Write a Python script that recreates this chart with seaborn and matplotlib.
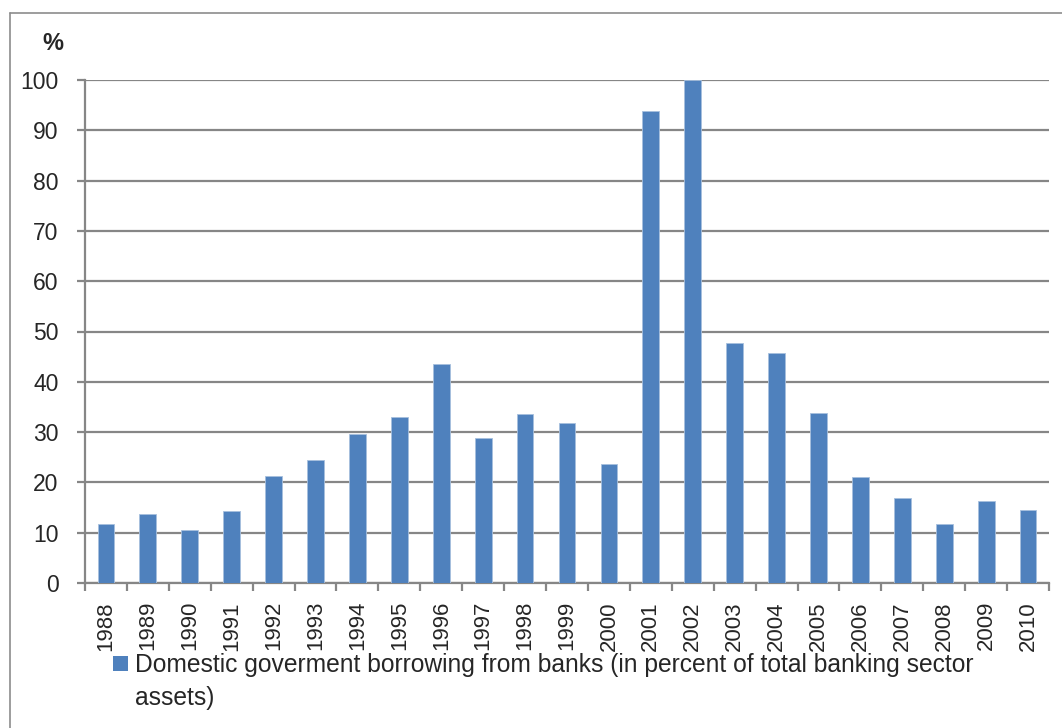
import numpy as np
import pandas as pd
import matplotlib
matplotlib.use("Agg")
from matplotlib import pyplot as plt
from matplotlib.patches import Rectangle
from matplotlib.lines import Line2D
import seaborn as sns

# Data
years = [str(y) for y in range(1988, 2011)]
borrowing = [11.8, 13.7, 10.5, 14.3, 21.3, 24.4, 29.6, 33.1, 43.6, 28.8, 33.5, 31.8,
             23.6, 93.8, 100.0, 47.8, 45.8, 33.7, 21.1, 16.9, 11.7, 16.4, 14.6]
y_ticks = list(range(0, 101, 10))
legend_lines = ["Domestic goverment borrowing from banks (in percent of total banking sector",
                "assets)"]

df = pd.DataFrame({"year": years, "value": borrowing})

sns.set_style("white")
plt.rcParams["font.family"] = ["Liberation Sans", "DejaVu Sans"]

W, H = 1062, 728
fig = plt.figure(figsize=(W / 100, H / 100), dpi=100)
ax = fig.add_axes([85 / W, 1 - 583 / H, (1049 - 85) / W, (583 - 80) / H])

bar_color = "#4F81BD"
grid_color = "#868686"

sns.barplot(data=df, x="year", y="value", color=bar_color, saturation=1,
            width=0.4, edgecolor="#A7C0DE", linewidth=0.6, ax=ax, zorder=3)

ax.set_ylim(0, 100)
ax.set_xlim(-0.5, len(years) - 0.5)
ax.set_yticks(y_ticks)
ax.yaxis.grid(True, color=grid_color, linewidth=1.6, zorder=0)
ax.set_axisbelow(True)

for side in ["top", "right"]:
    ax.spines[side].set_visible(False)
for side in ["left", "bottom"]:
    ax.spines[side].set_color(grid_color)
    ax.spines[side].set_linewidth(1.6)

ax.tick_params(axis="y", direction="out", length=6, width=1.6, color=grid_color,
               pad=13, labelsize=16.5, left=True)
ax.set_xticks(range(len(years)))
ax.set_xticklabels(years, rotation=90)
ax.tick_params(axis="x", which="major", length=0, pad=13, labelsize=16)
ax.set_xticks(np.arange(-0.5, len(years), 1), minor=True)
ax.tick_params(axis="x", which="minor", direction="out", length=6, width=1.6,
               color=grid_color, bottom=True)
ax.set_xlabel("")
ax.set_ylabel("")

# "%" unit label
fig.text(53 / W, 1 - 44 / H, "%", fontsize=17, fontweight="bold", ha="center", va="center")

# legend drawn under the axis
fig.patches.append(Rectangle((113 / W, 1 - 671 / H), 15 / W, 15 / H, transform=fig.transFigure,
                             facecolor=bar_color, edgecolor="none"))
for i, line in enumerate(legend_lines):
    fig.text(135 / W, 1 - (665 + 33 * i) / H, line, fontsize=17.7, ha="left", va="center")

# chart frame (only top and left edges visible in the reference)
fig.add_artist(Line2D([9.5 / W, 9.5 / W], [0, 1 - 13 / H], transform=fig.transFigure,
                      color="#8C8C8C", linewidth=1.2))
fig.add_artist(Line2D([9.5 / W, 1], [1 - 13 / H, 1 - 13 / H], transform=fig.transFigure,
                      color="#8C8C8C", linewidth=1.2))

fig.savefig("out.png", dpi=100, facecolor="white")
